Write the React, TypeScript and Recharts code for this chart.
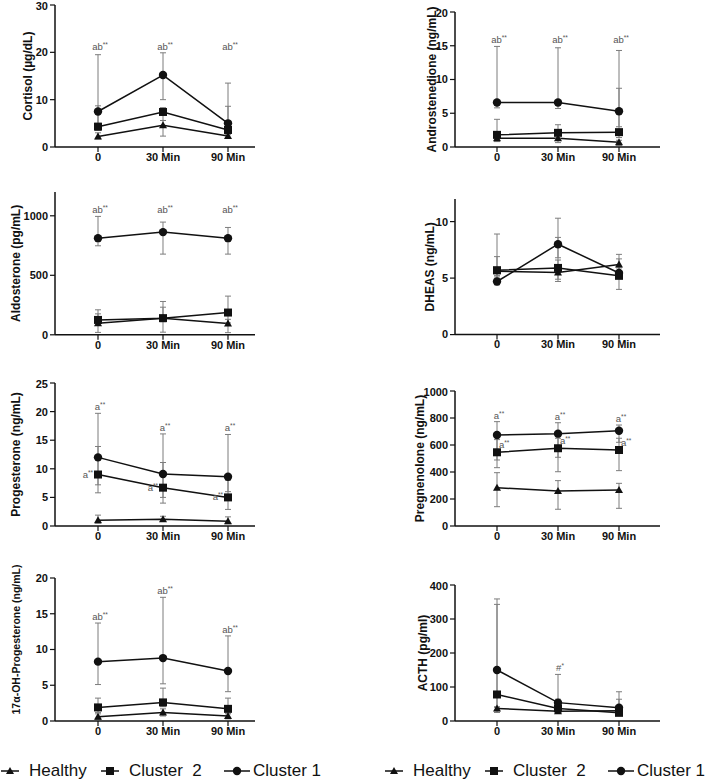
import React from "react";
import { LineChart, Line, XAxis, YAxis, ErrorBar, LabelList } from "recharts";

const times = ["0", "30 Min", "90 Min"];
const groups = ["Healthy", "Cluster  2", "Cluster 1"];

// mean per time point and whisker ends [low, high]
const cortisolHealthy = [2.2, 4.6, 2.3];
const cortisolHealthyBar = [[1.7, 3.0], [2.3, 5.6], [1.9, 2.8]];
const cortisolC2 = [4.3, 7.4, 3.6];
const cortisolC2Bar = [[3.5, 8.7], [5.6, 8.3], [2.6, 8.6]];
const cortisolC1 = [7.5, 15.2, 5.0];
const cortisolC1Bar = [[5.0, 19.5], [10.0, 19.9], [3.0, 13.5]];
const cortisolNotes = ["ab**", "ab**", "ab**"];

const androHealthy = [1.3, 1.3, 0.7];
const androHealthyBar = [[0.8, 1.6], [0.65, 1.7], [0.2, 1.0]];
const androC2 = [1.8, 2.1, 2.2];
const androC2Bar = [[1.2, 4.1], [1.3, 3.3], [1.4, 8.7]];
const androC1 = [6.6, 6.6, 5.3];
const androC1Bar = [[5.8, 14.9], [5.7, 14.7], [3.0, 14.3]];
const androNotes = ["ab**", "ab**", "ab**"];

const aldoHealthy = [98, 140, 95];
const aldoHealthyBar = [[20, 176], [22, 232], [18, 130]];
const aldoC2 = [125, 140, 187];
const aldoC2Bar = [[80, 210], [110, 280], [100, 325]];
const aldoC1 = [812, 863, 812];
const aldoC1Bar = [[748, 995], [678, 947], [678, 902]];
const aldoNotes = ["ab**", "ab**", "ab**"];

const dheasHealthy = [5.6, 5.5, 6.2];
const dheasHealthyBar = [[5.0, 6.9], [4.7, 6.6], [5.0, 7.1]];
const dheasC2 = [5.7, 5.9, 5.2];
const dheasC2Bar = [[5.2, 8.9], [4.9, 8.6], [4.0, 6.7]];
const dheasC1 = [4.7, 8.0, 5.45];
const dheasC1Bar = [[4.4, 5.2], [6.8, 10.3], [5.0, 5.9]];
const dheasNotes = ["", "", ""];

const progHealthy = [1.0, 1.2, 0.85];
const progHealthyBar = [[0.5, 1.9], [0.8, 1.7], [0.4, 1.6]];
const progC2 = [9.0, 6.7, 5.0];
const progC2Bar = [[5.8, 13.9], [4.0, 11.1], [2.9, 8.0]];
const progC1 = [12.0, 9.1, 8.6];
const progC1Bar = [[7.2, 19.7], [5.0, 16.1], [6.0, 16.0]];
const progNotes = ["a**", "a**", "a**"];
const progC2Notes = ["a**", "a**", "a**"];

const pregHealthy = [284, 259, 267];
const pregHealthyBar = [[143, 395], [124, 336], [131, 316]];
const pregC2 = [546, 576, 563];
const pregC2Bar = [[432, 640], [402, 650], [410, 650]];
const pregC1 = [674, 684, 706];
const pregC1Bar = [[489, 773], [509, 765], [620, 748]];
const pregNotes = ["a**", "a**", "a**"];
const pregC2Notes = ["a**", "a**", "a**"];

const ohpHealthy = [0.6, 1.2, 0.7];
const ohpHealthyBar = [[0.2, 1.0], [0.7, 1.7], [0.3, 1.0]];
const ohpC2 = [1.9, 2.6, 1.7];
const ohpC2Bar = [[1.2, 3.2], [2.0, 4.6], [1.1, 3.2]];
const ohpC1 = [8.3, 8.8, 7.0];
const ohpC1Bar = [[5.1, 13.7], [5.2, 17.3], [4.1, 11.9]];
const ohpNotes = ["ab**", "ab**", "ab**"];

const acthHealthy = [37, 29, 30];
const acthHealthyBar = [[25, 42], [22, 36], [20, 34]];
const acthC2 = [78, 37, 24];
const acthC2Bar = [[30, 343], [25, 64], [17, 64]];
const acthC1 = [150, 54, 39];
const acthC1Bar = [[40, 359], [30, 137], [25, 86]];
const acthNotes = ["", "#*", ""];

const panels = [
  { name: "Cortisol (µg/dL)", col: 0, top: 5, zero: 147, max: 30, ticks: [0, 10, 20, 30], labelX: 28,
    h: cortisolHealthy, hb: cortisolHealthyBar, c2: cortisolC2, c2b: cortisolC2Bar, c1: cortisolC1, c1b: cortisolC1Bar, notes: cortisolNotes, flat: true },
  { name: "Androstenedione (ng/mL)", col: 1, top: 12, zero: 147, max: 20, ticks: [0, 5, 10, 15, 20], labelX: 432,
    h: androHealthy, hb: androHealthyBar, c2: androC2, c2b: androC2Bar, c1: androC1, c1b: androC1Bar, notes: androNotes, flat: true },
  { name: "Aldosterone (pg/mL)", col: 0, top: 192.2, zero: 335, max: 1200, ticks: [0, 500, 1000], labelX: 16,
    h: aldoHealthy, hb: aldoHealthyBar, c2: aldoC2, c2b: aldoC2Bar, c1: aldoC1, c1b: aldoC1Bar, notes: aldoNotes, flat: true },
  { name: "DHEAS (ng/mL)", col: 1, top: 199.4, zero: 335, max: 12, ticks: [0, 5, 10], labelX: 430,
    h: dheasHealthy, hb: dheasHealthyBar, c2: dheasC2, c2b: dheasC2Bar, c1: dheasC1, c1b: dheasC1Bar, notes: dheasNotes },
  { name: "Progesterone (ng/mL)", col: 0, top: 383, zero: 526, max: 25, ticks: [0, 5, 10, 15, 20, 25], labelX: 16,
    h: progHealthy, hb: progHealthyBar, c2: progC2, c2b: progC2Bar, c1: progC1, c1b: progC1Bar, notes: progNotes,
    side: progC2Notes, sideDir: "left" },
  { name: "Pregnenolone (ng/mL)", col: 1, top: 391, zero: 526, max: 1000, ticks: [0, 200, 400, 600, 800, 1000], labelX: 420,
    h: pregHealthy, hb: pregHealthyBar, c2: pregC2, c2b: pregC2Bar, c1: pregC1, c1b: pregC1Bar, notes: pregNotes,
    side: pregC2Notes, sideDir: "right" },
  { name: "17α-OH-Progesterone (ng/mL)", col: 0, top: 578, zero: 721, max: 20, ticks: [0, 5, 10, 15, 20], labelX: 16,
    labelSize: 10.5, labelDy: -10, mTop: 30,
    h: ohpHealthy, hb: ohpHealthyBar, c2: ohpC2, c2b: ohpC2Bar, c1: ohpC1, c1b: ohpC1Bar, notes: ohpNotes },
  { name: "ACTH (pg/ml)", col: 1, top: 585, zero: 721, max: 400, ticks: [0, 100, 200, 300, 400], labelX: 423,
    h: acthHealthy, hb: acthHealthyBar, c2: acthC2, c2b: acthC2Bar, c1: acthC1, c1b: acthC1Bar, notes: acthNotes },
];

const INK = "#111";
const WHISKER = "#7d7d7d";

const buildRows = (p: any) => {
  const peak = Math.max(...[...p.hb, ...p.c2b, ...p.c1b].map((b: number[]) => b[1]));
  return times.map((t, i) => ({
    t,
    healthy: p.h[i],
    healthyErr: [p.h[i] - p.hb[i][0], p.hb[i][1] - p.h[i]],
    c2: p.c2[i],
    c2Err: [p.c2[i] - p.c2b[i][0], p.c2b[i][1] - p.c2[i]],
    c1: p.c1[i],
    c1Err: [p.c1[i] - p.c1b[i][0], p.c1b[i][1] - p.c1[i]],
    note: p.notes[i] || null,
    noteY: p.notes[i] ? (p.flat ? peak : p.c1b[i][1]) : null,
    side: p.side ? p.side[i] : null,
  }));
};

const marker = (kind: string, cx: number, cy: number, key?: any) => {
  if (kind === "tri")
    return <polygon key={key} points={`${cx},${cy - 4} ${cx - 4},${cy + 3} ${cx + 4},${cy + 3}`} fill={INK} />;
  if (kind === "sq") return <rect key={key} x={cx - 4} y={cy - 4} width={8} height={8} fill={INK} />;
  return <circle key={key} cx={cx} cy={cy} r={4.2} fill={INK} />;
};

const dotOf = (kind: string) => (props: any) => {
  const { cx, cy, index } = props;
  if (cx == null || cy == null) return <g key={`${kind}-${index}`} />;
  return marker(kind, cx, cy, `${kind}-${index}`);
};

const noteText = (s: string, x: number, y: number, anchor: string) => {
  const base = s.replace(/\*+$/, "");
  const stars = s.slice(base.length);
  return (
    <text x={x} y={y} textAnchor={anchor} fontSize={9.5} fill="#555">
      {base}
      {stars && (
        <tspan fontSize={6.5} dy={-3}>
          {stars}
        </tspan>
      )}
    </text>
  );
};

const topNote = (props: any) => {
  const { value, index } = props;
  const x = props.x ?? props.viewBox?.x;
  const y = props.y ?? props.viewBox?.y;
  if (!value || x == null || y == null) return null;
  return <g key={`n-${index}`}>{noteText(value, x + 2, y - 3, "middle")}</g>;
};

const sideNote = (dir: string) => (props: any) => {
  const { value, index } = props;
  const x = props.x ?? props.viewBox?.x;
  const y = props.y ?? props.viewBox?.y;
  if (!value || x == null || y == null) return null;
  return (
    <g key={`s-${index}`}>
      {dir === "left" ? noteText(value, x - 5, y + 3, "end") : noteText(value, x + 2, y - 4, "start")}
    </g>
  );
};

const axisTick = { fill: INK, fontSize: 11, fontWeight: "bold" };

const Panel = ({ p }: { p: any }) => {
  const left = p.col === 0 ? 0 : 370;
  const axisX = p.col === 0 ? 55 : 455;
  const xEnd = p.col === 0 ? 255 : 660;
  const mTop = p.mTop ?? 5;
  const xh = 30;
  const mRight = 10;
  const top = p.top - mTop;
  const height = p.zero - p.top + mTop + xh;
  const width = xEnd - left + mRight;
  const rows = buildRows(p);
  const lx = p.labelX - left;
  const ly = (p.top + p.zero) / 2 - top + (p.labelDy ?? 0);

  return (
    <div style={{ position: "absolute", left, top }}>
      <LineChart width={width} height={height} data={rows} margin={{ top: mTop, right: mRight, bottom: 0, left: 0 }}>
        <XAxis
          dataKey="t"
          interval={0}
          height={xh}
          padding={p.col === 0 ? { left: 43, right: 27 } : { left: 42, right: 41 }}
          axisLine={{ stroke: INK, strokeWidth: 1.5 }}
          tickLine={{ stroke: INK, strokeWidth: 1.2 }}
          tickSize={5}
          tickMargin={1}
          tick={axisTick}
        />
        <YAxis
          type="number"
          width={axisX - left}
          domain={[0, p.max]}
          ticks={p.ticks}
          axisLine={{ stroke: INK, strokeWidth: 1.5 }}
          tickLine={{ stroke: INK, strokeWidth: 1.2 }}
          tickSize={5}
          tickMargin={2}
          tick={axisTick}
          label={() => (
            <text
              x={lx}
              y={ly}
              transform={`rotate(-90, ${lx}, ${ly})`}
              textAnchor="middle"
              dominantBaseline="central"
              fontSize={p.labelSize ?? 12}
              fontWeight="bold"
              fill={INK}
            >
              {p.name}
            </text>
          )}
        />
        <Line dataKey="healthy" stroke={INK} strokeWidth={1.5} dot={dotOf("tri")} activeDot={false} isAnimationActive={false}>
          <ErrorBar dataKey="healthyErr" direction="y" width={3} stroke={WHISKER} strokeWidth={1} isAnimationActive={false} />
        </Line>
        <Line dataKey="c2" stroke={INK} strokeWidth={1.5} dot={dotOf("sq")} activeDot={false} isAnimationActive={false}>
          <ErrorBar dataKey="c2Err" direction="y" width={3} stroke={WHISKER} strokeWidth={1} isAnimationActive={false} />
          {p.side && <LabelList dataKey="side" content={sideNote(p.sideDir)} />}
        </Line>
        <Line dataKey="c1" stroke={INK} strokeWidth={1.5} dot={dotOf("dot")} activeDot={false} isAnimationActive={false}>
          <ErrorBar dataKey="c1Err" direction="y" width={3} stroke={WHISKER} strokeWidth={1} isAnimationActive={false} />
        </Line>
        <Line dataKey="noteY" stroke="none" dot={false} activeDot={false} legendType="none" isAnimationActive={false}>
          <LabelList dataKey="note" content={topNote} />
        </Line>
      </LineChart>
    </div>
  );
};

const legendIcons = [
  { kind: "tri", x: 2, w: 18, tx: 30 },
  { kind: "sq", x: 102, w: 18, tx: 130 },
  { kind: "dot", x: 225, w: 26, tx: 254 },
];

const LegendRow = ({ left }: { left: number }) => (
  <div style={{ position: "absolute", left, top: 760, width: 330, height: 22 }}>
    {groups.map((g, i) => {
      const it = legendIcons[i];
      return (
        <React.Fragment key={g}>
          <svg style={{ position: "absolute", left: it.x, top: 0 }} width={it.w} height={22}>
            <line x1={0} x2={it.w} y1={11} y2={11} stroke={INK} strokeWidth={1.5} />
            {marker(it.kind, it.w / 2, 11)}
          </svg>
          <span style={{ position: "absolute", left: it.tx, top: 0, fontSize: 17, lineHeight: "22px", whiteSpace: "pre", color: INK }}>
            {g}
          </span>
        </React.Fragment>
      );
    })}
  </div>
);

export default function App() {
  return (
    <div
      style={{
        position: "absolute",
        left: 0,
        top: 0,
        width: 709,
        height: 782,
        background: "#fff",
        overflow: "hidden",
        fontFamily: "'Liberation Sans', Arial, sans-serif",
      }}
    >
      {panels.map((p) => (
        <Panel key={p.name} p={p} />
      ))}
      <LegendRow left={-1} />
      <LegendRow left={383} />
    </div>
  );
}
